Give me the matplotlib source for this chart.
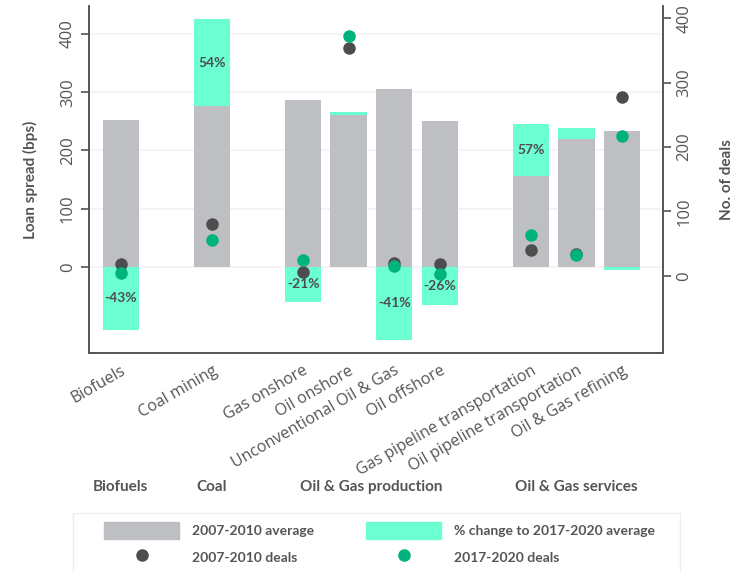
import numpy as np
import matplotlib.pyplot as plt
import matplotlib.transforms as mtransforms
from matplotlib.patches import Patch, Rectangle
from matplotlib.lines import Line2D

plt.rcParams['font.family'] = ['Lato', 'DejaVu Sans']

sectors = ['Biofuels', 'Coal mining', 'Gas onshore', 'Oil onshore',
           'Unconventional Oil & Gas', 'Oil offshore',
           'Gas pipeline transportation', 'Oil pipeline transportation',
           'Oil & Gas refining']
positions = [0, 2, 4, 5, 6, 7, 9, 10, 11]
spread_2007 = [252, 276, 286, 260, 306, 250, 156, 219, 234]
pct_change = [-43, 54, -21, 2.5, -41, -26, 57, 9, -2.5]
pct_labels = ['-43%', '54%', '-21%', '', '-41%', '-26%', '57%', '', '']
deals_2007 = [19, 80, 6, 354, 20, 19, 40, 34, 278]
deals_2017 = [5, 55, 24, 372, 15, 2, 64, 33, 217]
groups = ['Biofuels', 'Coal', 'Oil & Gas production', 'Oil & Gas services']
group_pos = [0, 2, 5.5, 10]

grey = '#bebfc3'
mint = '#6bffd1'
dark = '#4d4d4d'
green = '#00b37d'
txt = '#555555'
thin = ['Open Sans', 'DejaVu Sans']

fig = plt.figure(figsize=(7.37, 5.72), dpi=100)
ax = fig.add_axes([89 / 737, 1 - 353 / 572, (663 - 89) / 737, (353 - 6) / 572])
ax2 = ax.twinx()

base = np.array(spread_2007, dtype=float)
change = base * np.array(pct_change) / 100
pos = np.array(positions)

ax.bar(pos, base, width=0.8, color=grey, zorder=2)
up = change >= 0
ax.bar(pos[up], change[up], bottom=base[up], width=0.8, color=mint, zorder=2)
ax.bar(pos[~up], change[~up], bottom=0, width=0.8, color=mint, zorder=2)

for p, b, c, lab in zip(pos, base, change, pct_labels):
    if not lab:
        continue
    mid = b + c / 2 if c >= 0 else c / 2
    ax.text(p, mid, lab, ha='center', va='center', fontsize=10,
            fontweight='bold', color=dark, zorder=3)

ax2.plot(pos, deals_2007, 'o', color=dark, markersize=8, linestyle='none')
ax2.plot(pos, deals_2017, 'o', color=green, markersize=8, linestyle='none')

ax.set_xlim(-0.7, 11.9)
ax.set_ylim(-148, 448)
ax2.set_ylim(-120, 419)
ax.set_yticks([0, 100, 200, 300, 400])
ax2.set_yticks([0, 100, 200, 300, 400])
ax.grid(axis='y', color='#f2f2f2', linewidth=1.2)
ax.set_axisbelow(True)

ax.set_xticks(pos)
ax.set_xticklabels(sectors, rotation=30, ha='right', rotation_mode='anchor',
                   fontsize=11.5, color=txt, family=thin)
ax.tick_params(axis='x', length=0, pad=7)
for a in (ax, ax2):
    a.tick_params(axis='y', labelsize=12, labelcolor=txt, color=txt,
                  length=6, width=1.2, labelrotation=90)
    for lab in a.get_yticklabels():
        lab.set_va('center')
        lab.set_family(thin)
    for s in a.spines.values():
        s.set_color(txt)
        s.set_linewidth(1.2)
    a.spines['top'].set_visible(False)

ax.set_ylabel('Loan spread (bps)', fontsize=11, fontweight='bold', color=txt, labelpad=16)
ax2.set_ylabel('No. of deals', fontsize=11, fontweight='bold', color=txt, labelpad=20)

trans = mtransforms.blended_transform_factory(ax.transData, fig.transFigure)
for g, gp in zip(groups, group_pos):
    ax.text(gp, 1 - 487 / 572, g, transform=trans, ha='center', va='center',
            fontsize=11, fontweight='bold', color=txt)

# legend frame, then two single-column legends placed inside it
fig.patches.append(Rectangle((73 / 737, -0.01), 607 / 737, 1 - 513 / 572 + 0.01,
                             transform=fig.transFigure, facecolor='white',
                             edgecolor='#eeeeee', linewidth=1))
cols = [([Patch(color=grey), Line2D([], [], marker='o', color=dark, linestyle='none', markersize=8)],
         ['2007-2010 average', '2007-2010 deals'], 104),
        ([Patch(color=mint), Line2D([], [], marker='o', color=green, linestyle='none', markersize=8)],
         ['% change to 2017-2020 average', '2017-2020 deals'], 366)]
for hs, ls, x0 in cols:
    leg = fig.legend(hs, ls, loc='upper left', bbox_to_anchor=(x0 / 737, 1 - 522 / 572),
                     fontsize=10, handlelength=5.4, handleheight=1.5, frameon=False,
                     borderpad=0, borderaxespad=0, labelspacing=0.72, handletextpad=0.9)
    for t in leg.get_texts():
        t.set_color(txt)
        t.set_fontweight('bold')

fig.savefig('out.png', dpi=100)
